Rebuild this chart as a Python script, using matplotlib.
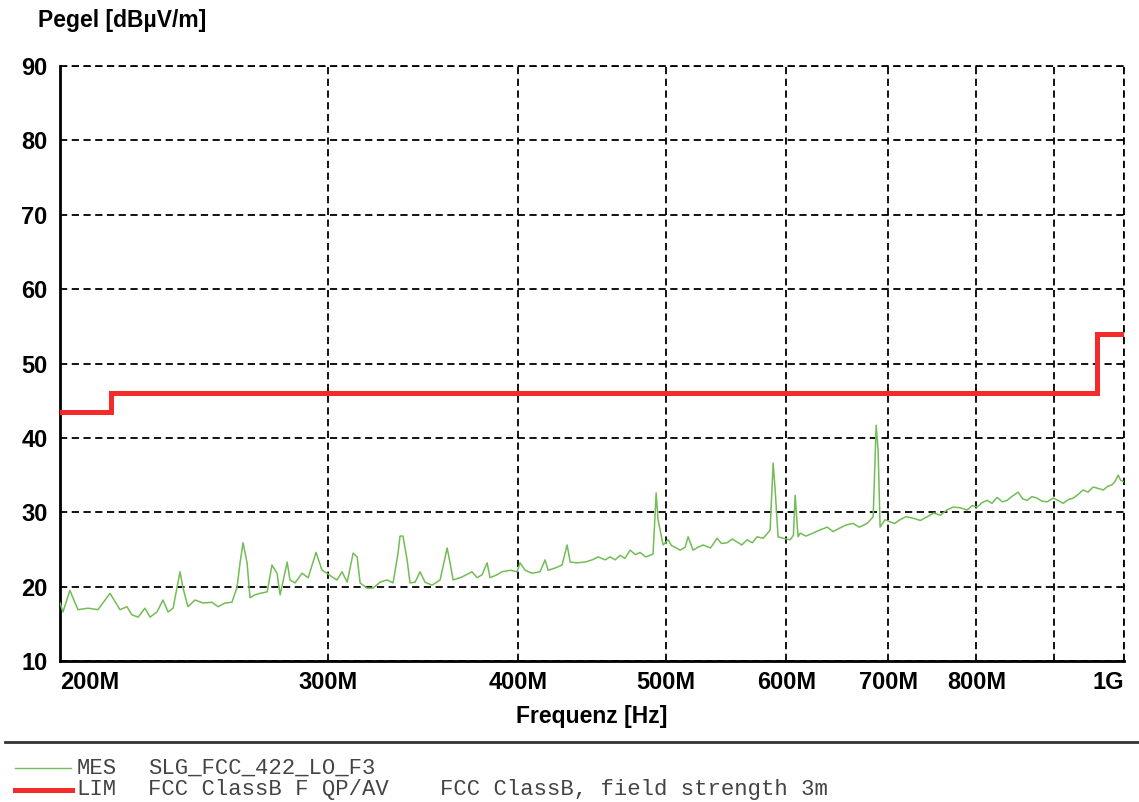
import matplotlib
matplotlib.use("Agg")
import numpy as np
import matplotlib.pyplot as plt
from matplotlib.lines import Line2D

# measured field strength, frequency in MHz / level in dBuV/m
mes_freq = [200.0, 200.9, 203.0, 205.5, 208.7, 211.8, 215.7, 219.0, 221.3, 223.0,
            225.1, 227.4, 229.2, 231.6, 233.7, 235.5, 237.3, 239.8, 240.9, 242.7,
            245.3, 248.3, 251.7, 254.0, 256.7, 259.4, 261.4, 262.6, 263.8, 265.4,
            266.6, 268.6, 270.7, 273.6, 275.6, 277.7, 279.0, 282.0, 283.2, 285.4,
            288.4, 291.1, 294.6, 297.3, 299.5, 301.8, 304.1, 306.4, 308.8, 311.6,
            313.5, 314.9, 318.2, 321.1, 324.6, 328.0, 331.0, 333.5, 334.5, 336.0,
            338.1, 339.6, 342.2, 344.8, 347.4, 351.1, 355.4, 359.2, 360.8, 362.5,
            367.4, 373.0, 375.9, 378.7, 381.6, 383.3, 387.4, 390.3, 395.1, 399.3,
            401.1, 404.2, 408.5, 413.4, 416.6, 418.5, 422.9, 427.4, 430.7, 432.7,
            437.3, 442.6, 447.3, 451.4, 456.2, 459.6, 463.1, 466.6, 470.0, 473.8,
            477.5, 481.0, 485.0, 488.3, 490.5, 492.8, 494.2, 498.0, 501.8, 504.5,
            507.1, 511.0, 514.9, 517.2, 521.1, 525.0, 529.1, 535.0, 540.4, 544.0,
            548.6, 553.0, 557.0, 561.0, 565.5, 570.0, 574.1, 579.4, 585.5, 588.2,
            590.0, 592.6, 597.1, 603.5, 606.5, 608.1, 610.8, 612.7, 618.0, 624.9,
            631.0, 638.3, 644.0, 650.9, 657.0, 663.9, 670.0, 678.1, 684.3, 687.4,
            689.4, 691.5, 696.7, 702.1, 707.0, 712.7, 719.0, 726.9, 735.0, 742.5,
            750.0, 757.3, 765.0, 772.3, 780.5, 788.8, 795.0, 800.8, 807.0, 813.0,
            819.0, 825.4, 832.0, 838.0, 845.0, 852.1, 858.0, 863.8, 870.0, 876.9,
            883.0, 890.3, 898.4, 905.0, 912.1, 919.0, 926.1, 933.0, 940.2, 947.0,
            954.5, 962.0, 969.1, 976.0, 982.4, 987.0, 991.2, 995.0, 1000.0]
mes_level = [17.8, 16.6, 19.5, 16.9, 17.1, 16.9, 19.1, 16.9, 17.3, 16.2,
             15.9, 17.1, 15.9, 16.6, 18.2, 16.6, 17.1, 22.0, 19.8, 17.3,
             18.2, 17.8, 17.9, 17.3, 17.8, 17.9, 19.9, 23.2, 25.9, 23.2,
             18.5, 18.9, 19.1, 19.3, 22.9, 21.8, 18.9, 23.3, 20.9, 20.5,
             21.8, 21.2, 24.6, 22.2, 21.8, 21.3, 20.9, 22.0, 20.6, 24.5,
             24.0, 20.5, 19.8, 19.8, 20.6, 20.9, 20.5, 24.5, 26.8, 26.8,
             23.6, 20.5, 20.6, 22.0, 20.6, 20.2, 20.9, 25.2, 23.2, 20.9,
             21.3, 22.0, 21.2, 21.6, 23.2, 21.2, 21.6, 22.0, 22.2, 22.0,
             23.2, 22.2, 21.8, 22.0, 23.6, 22.2, 22.5, 22.9, 25.6, 23.3,
             23.2, 23.3, 23.6, 24.0, 23.6, 24.0, 23.6, 24.2, 23.8, 24.9,
             24.3, 24.6, 24.0, 24.2, 24.4, 32.6, 29.0, 25.6, 26.3, 25.5,
             25.3, 24.9, 25.3, 26.7, 24.9, 25.3, 25.6, 25.2, 26.5, 25.8,
             25.9, 26.4, 26.0, 25.6, 26.3, 25.9, 26.7, 26.5, 27.6, 36.6,
             33.0, 26.7, 26.5, 26.3, 26.9, 32.3, 26.7, 27.2, 26.8, 27.2,
             27.6, 28.0, 27.4, 27.9, 28.3, 28.5, 28.0, 28.5, 29.4, 41.7,
             38.4, 28.0, 29.0, 28.7, 28.5, 29.0, 29.4, 29.2, 28.9, 29.4,
             29.9, 29.6, 30.3, 30.7, 30.6, 30.3, 30.9, 30.7, 31.3, 31.6,
             31.2, 32.0, 31.4, 31.6, 32.2, 32.7, 31.8, 31.6, 32.1, 31.9,
             31.5, 31.4, 31.9, 31.6, 31.2, 31.7, 31.9, 32.4, 33.0, 32.7,
             33.4, 33.2, 33.0, 33.5, 33.7, 34.2, 35.0, 34.3, 34.1]

# FCC Class B limit steps
lim_freq = [200, 216, 216, 960, 960, 1000]
lim_level = [43.5, 43.5, 46.0, 46.0, 54.0, 54.0]

xticks = [200, 300, 400, 500, 600, 700, 800, 900, 1000]
xticklabels = ["200M", "300M", "400M", "500M", "600M", "700M", "800M", "", "1G"]
yticks = [10, 20, 30, 40, 50, 60, 70, 80, 90]

green = "#72bd55"
red = "#f52a2a"

plt.rcParams["font.family"] = ["Liberation Sans", "DejaVu Sans"]

fig = plt.figure(figsize=(11.39, 8.02), dpi=100)
ax = fig.add_axes([0.0527, 0.1758, 0.9341, 0.7419])

ax.plot(mes_freq, mes_level, color=green, lw=1.1, zorder=3)
ax.plot(lim_freq, lim_level, color=red, lw=3.6, zorder=4, solid_joinstyle="miter")

ax.set_xscale("log")
ax.set_xlim(200, 1000)
ax.set_ylim(10, 90)
ax.set_xticks(xticks)
ax.set_xticklabels(xticklabels)
ax.xaxis.set_minor_locator(matplotlib.ticker.NullLocator())
ax.set_yticks(yticks)
ax.tick_params(length=0, labelsize=17, pad=7)
ax.tick_params(axis="y", pad=9)
for t in ax.get_xticklabels() + ax.get_yticklabels():
    t.set_fontweight("bold")
xl = ax.get_xticklabels()
xl[0].set_horizontalalignment("left")
xl[-1].set_horizontalalignment("right")

# dashed grid; the 90 line and 1G line act as top/right border
ax.grid(True, which="major", color="black", linestyle=(0, (4, 2.5)), lw=1.3)
for s in ["top", "right"]:
    ax.spines[s].set_visible(False)
ax.axhline(90, color="black", linestyle=(0, (4, 2.5)), lw=1.3, clip_on=False)
ax.axvline(1000, color="black", linestyle=(0, (4, 2.5)), lw=1.3, clip_on=False)
for s in ["left", "bottom"]:
    ax.spines[s].set_linewidth(2)

ax.set_xlabel("Frequenz [Hz]", fontsize=16.5, fontweight="bold", labelpad=8)
fig.text(0.033, 0.975, "Pegel [dB\u00b5V/m]", fontsize=16.5, fontweight="bold",
         ha="left", va="center")

# separator and legend block below the plot
fig.add_artist(Line2D([0.004, 1.0], [0.075, 0.075], color="#333333", lw=2))
fig.add_artist(Line2D([0.013, 0.062], [0.042, 0.042], color=green, lw=1))
fig.add_artist(Line2D([0.013, 0.063], [0.015, 0.015], color=red, lw=3.6))
mono = dict(family="Liberation Mono", fontsize=16, color="#444444", va="center")
fig.text(0.067, 0.042, "MES", **mono)
fig.text(0.13, 0.042, "SLG_FCC_422_LO_F3", **mono)
fig.text(0.067, 0.015, "LIM", **mono)
fig.text(0.13, 0.015, "FCC ClassB F QP/AV", **mono)
fig.text(0.386, 0.015, "FCC ClassB, field strength 3m", **mono)

fig.savefig("out.png", dpi=100)
